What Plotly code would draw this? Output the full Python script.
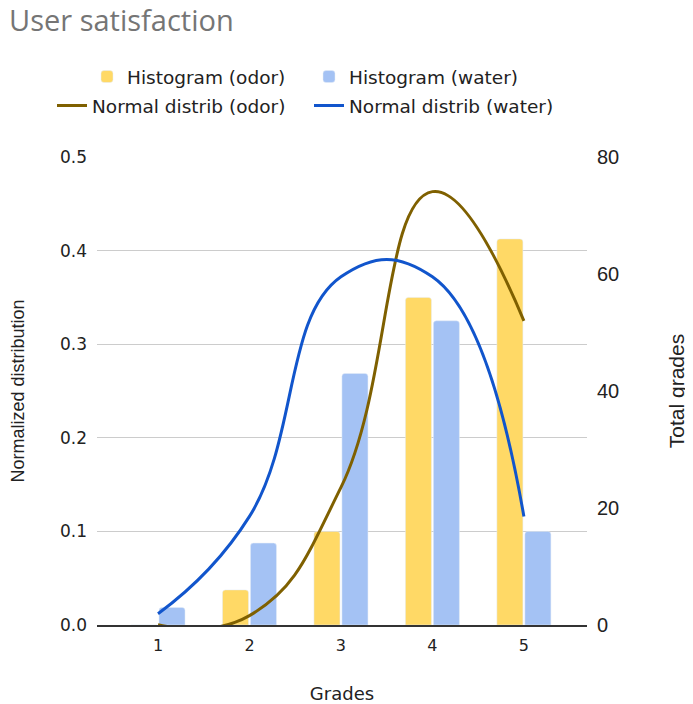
import plotly.graph_objects as go

grades = [1, 2, 3, 4, 5]
hist_odor = [0, 6, 16, 56, 66]
hist_water = [3, 14, 43, 52, 16]
norm_odor = [0.0002, 0.010, 0.147, 0.463, 0.325]
norm_water = [0.012, 0.116, 0.372, 0.372, 0.116]

OFF = 8  # browser body margin
W, H = 693 - OFF, 704 - OFF
L, R, T, B = 97 - OFF, 106, 157 - OFF, 79
pw, ph = W - L - R, H - T - B

def px(xr):  # reference-screen x -> paper x
    return (xr - OFF - L) / pw

def py(yr):  # reference-screen y -> paper y
    return (H - B - (yr - OFF)) / ph

fig = go.Figure()
fig.add_trace(go.Bar(x=grades, y=hist_odor, name="Histogram (odor)",
                     marker_color="#FFD966", yaxis="y", legend="legend"))
fig.add_trace(go.Bar(x=grades, y=hist_water, name="Histogram (water)",
                     marker_color="#A4C2F4", yaxis="y", legend="legend2"))
fig.add_trace(go.Scatter(x=grades, y=norm_odor, name="Normal distrib (odor)",
                         mode="lines", line=dict(color="#7F6000", width=3, shape="spline", smoothing=1.3),
                         yaxis="y2", legend="legend3"))
fig.add_trace(go.Scatter(x=grades, y=norm_water, name="Normal distrib (water)",
                         mode="lines", line=dict(color="#1155CC", width=3, shape="spline", smoothing=1.3),
                         yaxis="y2", legend="legend4"))

leg_font = dict(family="DejaVu Sans", size=18.5, color="#222222")
fig.update_layout(
    width=W, height=H,
    margin=dict(l=L, r=R, t=T, b=B, autoexpand=False),
    paper_bgcolor="white", plot_bgcolor="white",
    showlegend=True,
    barmode="group", bargap=0.388, bargroupgap=0.07, barcornerradius=3,
    title=dict(text="User satisfaction", x=0.0, xref="container", xanchor="left",
               y=1 - 3 / H, yref="container", yanchor="top", pad=dict(t=0, l=1),
               font=dict(family="Open Sans", size=29, color="#757575")),
    xaxis=dict(range=[0.333, 5.69], tickvals=grades, ticktext=[str(g) for g in grades],
               automargin=False,
               showgrid=False, zeroline=False, showline=True, linecolor="#333333", linewidth=1.5,
               tickfont=dict(family="DejaVu Sans", size=16, color="#222222"), ticks="",
               ticklabelstandoff=5,
               title=dict(text="Grades", font=dict(family="DejaVu Sans", size=18, color="#222222"), standoff=36)),
    yaxis=dict(range=[0, 80], tickvals=[0, 20, 40, 60, 80], side="right", showgrid=False,
               automargin=False,
               zeroline=False, ticks="", ticklabelstandoff=9,
               tickfont=dict(family="Liberation Sans", size=20, color="#222222"),
               title=dict(text="Total grades", font=dict(family="Liberation Sans", size=21, color="#222222"), standoff=51)),
    yaxis2=dict(range=[0, 0.5], tickvals=[0, 0.1, 0.2, 0.3, 0.4, 0.5], tickformat=".1f",
                automargin=False,
                overlaying="y", side="left", showgrid=True, gridcolor="#CCCCCC", gridwidth=1,
                zeroline=False, ticks="", ticklabelstandoff=9,
                tickfont=dict(family="DejaVu Sans", size=17, color="#222222"),
                title=dict(text="Normalized distribution", font=dict(family="Liberation Sans", size=18, color="#222222"), standoff=38)),
    legend=dict(x=px(291), y=py(77), xanchor="right", yanchor="middle", font=leg_font, bgcolor="rgba(0,0,0,0)"),
    legend2=dict(x=px(309), y=py(77), xanchor="left", yanchor="middle", font=leg_font, bgcolor="rgba(0,0,0,0)"),
    legend3=dict(x=px(291), y=py(106), xanchor="right", yanchor="middle", font=leg_font, bgcolor="rgba(0,0,0,0)"),
    legend4=dict(x=px(309), y=py(106), xanchor="left", yanchor="middle", font=leg_font, bgcolor="rgba(0,0,0,0)"),
)

fig.write_html("out.html")
